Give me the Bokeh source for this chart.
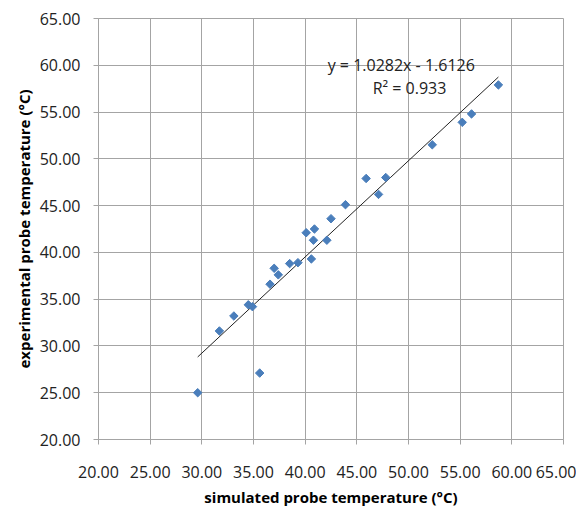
import numpy as np
from bokeh.plotting import figure
from bokeh.models import Label, NumeralTickFormatter, FixedTicker, Range1d
from bokeh.embed import file_html
from bokeh.resources import INLINE

# simulated vs experimental probe temperatures (°C)
simulated = [29.6, 35.6, 31.7, 33.1, 34.5, 34.9, 36.6, 37.0, 37.4, 38.5, 39.3,
             40.1, 40.9, 40.8, 40.6, 42.1, 42.5, 43.9, 45.9, 47.1, 47.8,
             52.3, 55.2, 56.1, 58.7]
experimental = [25.0, 27.1, 31.6, 33.2, 34.4, 34.2, 36.6, 38.3, 37.6, 38.8, 38.9,
                42.1, 42.5, 41.3, 39.3, 41.3, 43.6, 45.1, 47.9, 46.2, 48.0,
                51.5, 53.9, 54.8, 57.9]
slope = 1.0282
intercept = -1.6126
r_squared = 0.933
ticks = [20, 25, 30, 35, 40, 45, 50, 55, 60, 65]

FONT = "Open Sans"
GRID = "#a4a4a4"

p = figure(width=576, height=510, output_backend="svg", toolbar_location=None,
           x_range=Range1d(20, 65), y_range=Range1d(20, 65),
           min_border_left=98, min_border_right=13, min_border_top=18,
           min_border_bottom=71)
p.background_fill_color = "white"
p.border_fill_color = "white"
p.outline_line_color = GRID
p.outline_line_width = 1

for ax in (p.xaxis[0], p.yaxis[0]):
    ax.ticker = FixedTicker(ticks=ticks)
    ax.formatter = NumeralTickFormatter(format="0.00")
    ax.axis_line_color = GRID
    ax.major_tick_line_color = GRID
    ax.major_tick_out = 5
    ax.major_tick_in = 0
    ax.minor_tick_line_color = None
    ax.major_label_text_font = FONT
    ax.major_label_text_font_size = "16px"
    ax.major_label_text_color = "#222222"
    ax.axis_label_text_font = FONT
    ax.axis_label_text_font_size = "15px"
    ax.axis_label_text_font_style = "bold"
    ax.axis_label_text_color = "#000000"

p.xaxis.axis_label = "simulated probe temperature (°C)"
p.yaxis.axis_label = "experimental probe temperature (°C)"
p.xaxis.major_label_standoff = 21
p.xaxis.axis_label_standoff = 6
p.yaxis.major_label_standoff = 13
p.yaxis.axis_label_standoff = 3

p.grid.grid_line_color = GRID
p.grid.grid_line_width = 1
p.xgrid.ticker = FixedTicker(ticks=ticks)
p.ygrid.ticker = FixedTicker(ticks=ticks)

# trendline over data range
x0, x1 = min(simulated), max(simulated)
p.line([x0, x1], [slope * x0 + intercept, slope * x1 + intercept],
       line_color="#222222", line_width=1)

p.scatter(simulated, experimental, marker="square", angle=np.pi / 4, size=6,
          fill_color="#4a7ebb", line_color="#4a7ebb")

eq = Label(x=49.3, y=60.0, text=f"y = {slope}x - {abs(intercept)}",
           text_font=FONT, text_font_size="16px", text_align="center",
           text_baseline="middle", text_color="#222222")
r2 = Label(x=50.1, y=57.6, text=f"R² = {r_squared}",
           text_font=FONT, text_font_size="16px", text_align="center",
           text_baseline="middle", text_color="#222222")
p.add_layout(eq)
p.add_layout(r2)

open("out.html", "w").write(file_html(p, INLINE))
